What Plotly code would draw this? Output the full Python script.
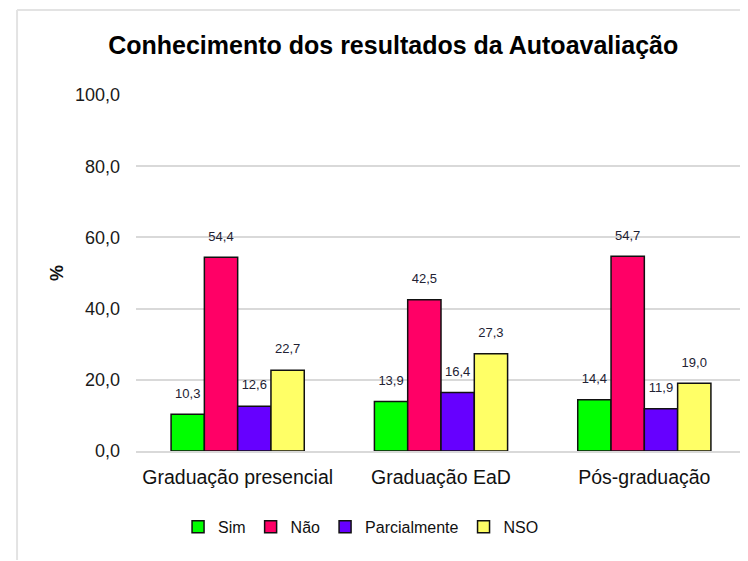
import plotly.graph_objects as go

categories = ["Graduação presencial", "Graduação EaD", "Pós-graduação"]
series_names = ["Sim", "Não", "Parcialmente", "NSO"]
sim = [10.3, 13.9, 14.4]
nao = [54.4, 42.5, 54.7]
parcialmente = [12.6, 16.4, 11.9]
nso = [22.7, 27.3, 19.0]
colors = ["#00FF00", "#FF0066", "#6600FF", "#FFFF66"]
y_ticks = [0, 20, 40, 60, 80, 100]

FONT = "Liberation Sans, Arial, sans-serif"

def fmt(v):
    return f"{v:.1f}".replace(".", ",")

fig = go.Figure()
for name, vals, col in zip(series_names, [sim, nao, parcialmente, nso], colors):
    fig.add_trace(go.Bar(
        name=name, x=categories, y=vals,
        marker=dict(color=col, line=dict(color="#111111", width=1.5)),
        offsetgroup=name,
    ))
for name, vals in zip(series_names, [sim, nao, parcialmente, nso]):
    fig.add_trace(go.Scatter(
        x=categories, y=vals, mode="markers+text",
        marker=dict(size=20, opacity=0),
        text=[fmt(v) for v in vals], textposition="top center",
        textfont=dict(family=FONT, size=13, color="#222233"),
        offsetgroup=name, showlegend=False, hoverinfo="skip", cliponaxis=False,
    ))

fig.update_layout(
    width=748, height=561,
    paper_bgcolor="white", plot_bgcolor="white",
    barmode="group", bargap=0.345, bargroupgap=0,
    scattermode="group", scattergap=0.345,
    margin=dict(l=128, r=10, t=87, b=118),
    title=dict(text="<b>Conhecimento dos resultados da Autoavaliação</b>",
               x=0.515, xanchor="center", y=0.934, yanchor="middle",
               font=dict(family=FONT, size=25, color="#000000")),
    font=dict(family=FONT, color="#1a1a1a"),
    showlegend=True,
    legend=dict(orientation="h", xref="container", x=0.472, xanchor="center",
                yref="container", y=0.075, yanchor="middle",
                font=dict(family=FONT, size=16, color="#111111"),
                itemwidth=30, tracegroupgap=0),
    xaxis=dict(showline=True, linecolor="#d9d9d9", linewidth=1.5,
               tickfont=dict(family=FONT, size=19.5, color="#111111"), ticks="",
               ticklabelstandoff=8),
    yaxis=dict(range=[0, 100], tickvals=y_ticks,
               ticktext=[fmt(v) for v in y_ticks],
               gridcolor="#d9d9d9", gridwidth=1.5, zeroline=False,
               tickfont=dict(family=FONT, size=18, color="#1a1a1a"),
               ticklabelstandoff=15,
               title=dict(text="<b>%</b>", font=dict(family=FONT, size=18, color="#111111"), standoff=6)),
    shapes=[
        dict(type="line", xref="paper", yref="paper", x0=-0.195, x1=1.03, y0=1.239, y1=1.239,
             line=dict(color="#e3e3e3", width=2)),
        dict(type="line", xref="paper", yref="paper", x0=-0.195, x1=-0.195, y0=1.239, y1=-0.306,
             line=dict(color="#e3e3e3", width=2)),
    ],
)
fig.write_html("out.html")
